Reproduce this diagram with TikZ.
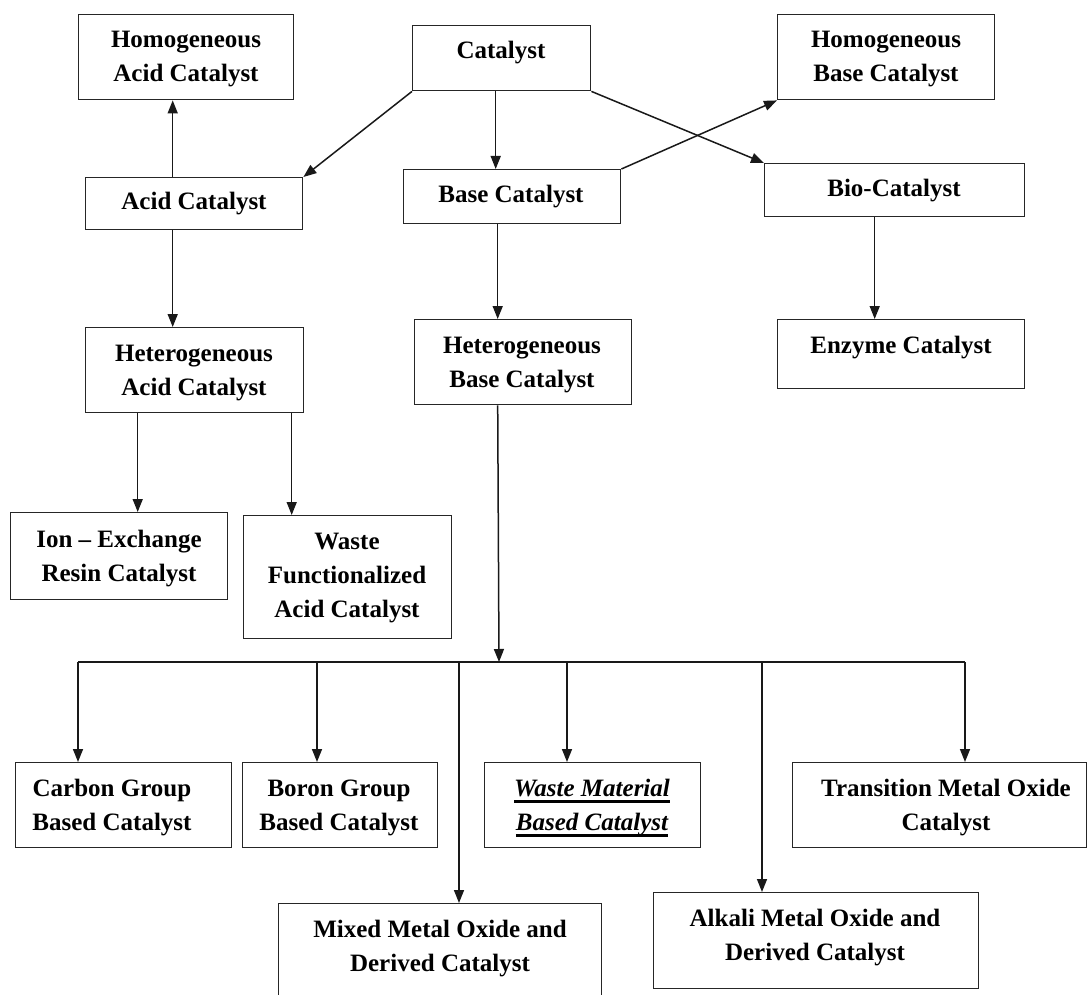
\documentclass[tikz,border=0pt]{standalone}
\usepackage{fontspec}
\setmainfont{Liberation Serif}
\usetikzlibrary{arrows.meta}
\newcommand\mybox[5]{\node[box, anchor=north west, minimum width={#4-#2}, minimum height={#5-#3}] (#1) at (#2,#3) {};}
\newcommand\thickul[1]{\setbox0\hbox{#1}\rlap{\raisebox{-6pt}{\rule{\wd0}{2.6pt}}}\box0}
\begin{document}
\begin{tikzpicture}[x=1pt,y=-1pt,
  box/.style={draw=black!85, line width=1.4pt, inner sep=0pt},
  lbl/.style={font=\bfseries\fontsize{25}{34}\selectfont, align=center, inner sep=0pt},
  arr/.style={draw=black!90, line width=1.5pt, -{Triangle[length=13pt,width=10pt]}},
  ln/.style={draw=black!90, line width=1.5pt}]
\fill[white] (0,0) rectangle (1090,995);
\useasboundingbox (0,0) rectangle (1090,995);
% boxes
\mybox{hacid}{78}{14}{293}{99}
\mybox{cat}{412}{25}{590}{90}
\mybox{hbase}{777}{14}{994}{99}
\mybox{acid}{85}{177}{302}{229}
\mybox{base}{403}{169}{620}{223}
\mybox{bio}{764}{163}{1024}{216}
\mybox{enz}{777}{319}{1024}{388}
\mybox{hetacid}{85}{327}{303}{412}
\mybox{hetbase}{414}{319}{631}{404}
\mybox{ion}{10}{512}{227}{599}
\mybox{wfunc}{243}{515}{451}{638}
\mybox{carbon}{15}{762}{231}{847}
\mybox{boron}{242}{762}{437}{847}
\mybox{wmat}{484}{762}{700}{847}
\mybox{trans}{792}{762}{1086}{847}
\mybox{mixed}{278}{903}{601}{1002}
\mybox{alkali}{653}{892}{978}{988}
% labels
\node[lbl] (hacidL) at (186,59) {Homogeneous\\Acid Catalyst};
\node[lbl] (catL) at (501,53) {Catalyst};
\node[lbl] (hbaseL) at (886,59) {Homogeneous\\Base Catalyst};
\node[lbl] (acidL) at (194,204) {Acid Catalyst};
\node[lbl] (baseL) at (511,197) {Base Catalyst};
\node[lbl] (bioL) at (894,191) {Bio-Catalyst};
\node[lbl] (enzL) at (901,348) {Enzyme Catalyst};
\node[lbl] (hetacidL) at (194,373) {Heterogeneous\\Acid Catalyst};
\node[lbl] (hetbaseL) at (522,365) {Heterogeneous\\Base Catalyst};
\node[lbl] (ionL) at (119,559) {Ion -- Exchange\\Resin Catalyst};
\node[lbl] (wfuncL) at (347,578) {Waste\\Functionalized\\Acid Catalyst};
\node[lbl] (carbonL) at (112,808) {Carbon Group\\Based Catalyst};
\node[lbl] (boronL) at (339,808) {Boron Group\\Based Catalyst};
\node[lbl] (wmatL) at (592,808) {\thickul{\itshape Waste Material}\\\thickul{\itshape Based Catalyst}};
\node[lbl] (transL) at (946,808) {Transition Metal Oxide\\Catalyst};
\node[lbl] (mixedL) at (440,949) {Mixed Metal Oxide and\\Derived Catalyst};
\node[lbl] (alkaliL) at (815,938) {Alkali Metal Oxide and\\Derived Catalyst};
% connectors
\draw[arr] (cat.south west) -- (acid.north east);
\draw[arr] ([xshift=-6pt]cat.south) -- ([xshift=-16.5pt]base.north);
\draw[arr] (cat.south east) -- (bio.north west);
\draw[arr] (base.north east) -- (hbase.south west);
\draw[arr] ([xshift=-21.5pt]acid.north) -- ([xshift=-13.5pt]hacid.south);
\draw[arr] ([xshift=-21.5pt]acid.south) -- ([xshift=-22pt]hetacid.north);
\draw[arr] ([xshift=-57pt]hetacid.south) -- ([xshift=18.5pt]ion.north);
\draw[arr] ([xshift=97pt]hetacid.south) -- ([xshift=-56pt]wfunc.north);
\draw[arr] ([xshift=-14.5pt]base.south) -- ([xshift=-25.5pt]hetbase.north);
\draw[arr] ([xshift=-20pt]bio.south) -- ([xshift=-26.5pt]enz.north);
% bus
\coordinate (hub) at (499,662);
\coordinate (b1) at (78,662);
\coordinate (b2) at (317,662);
\coordinate (b3) at (459,662);
\coordinate (b4) at (567,662);
\coordinate (b5) at (762,662);
\coordinate (b6) at (965,662);
\draw[arr] ([xshift=-25.5pt]hetbase.south) -- (hub);
\draw[ln] (b1) -- (b6);
\draw[arr] (b1) -- (b1 |- carbon.north);
\draw[arr] (b2) -- (b2 |- boron.north);
\draw[arr] (b3) -- (b3 |- mixed.north);
\draw[arr] (b4) -- (b4 |- wmat.north);
\draw[arr] (b5) -- (b5 |- alkali.north);
\draw[arr] (b6) -- (b6 |- trans.north);
\end{tikzpicture}
\end{document}
